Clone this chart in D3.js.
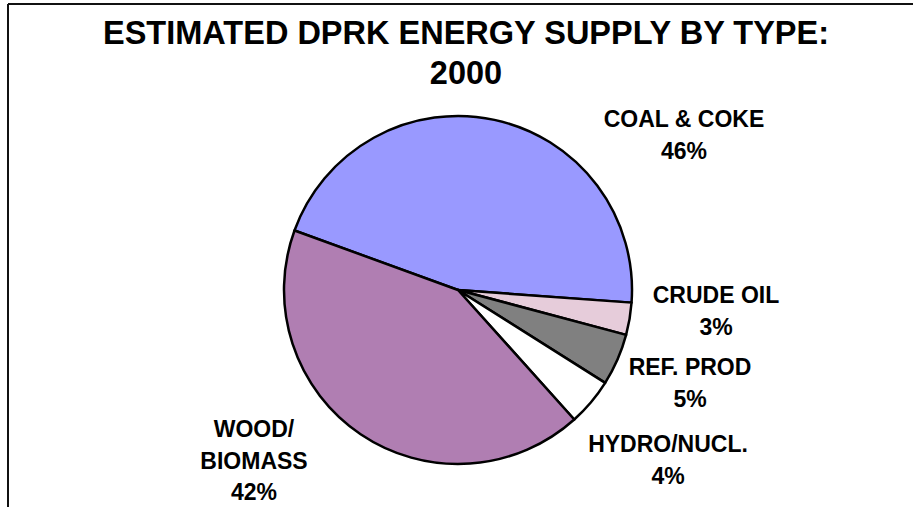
<!DOCTYPE html>
<html>
<head>
<meta charset="utf-8">
<script src="https://cdn.jsdelivr.net/npm/d3@7"></script>
<style>
  body { margin: 0; background: #fff; }
  text { font-family: "Liberation Sans", Arial, sans-serif; font-weight: bold; fill: #000; }
</style>
</head>
<body>
<script>
// Data
const categories = ["COAL & COKE", "CRUDE OIL", "REF. PROD", "HYDRO/NUCL.", "WOOD/\nBIOMASS"];
const shares = [45.6, 3.0, 4.8, 4.4, 42.2];
const colors = ["#9999ff", "#e6ccda", "#808080", "#ffffff", "#b07eb2"];
const titleLines = ["ESTIMATED DPRK ENERGY SUPPLY BY TYPE:", "2000"];

// Label anchors (first baseline), relative to the pie centre
const labelOffsets = [[226, -163], [258, 13], [232, 85], [210, 162], [-204, 147]];

const width = 913, height = 507;
const cx = 458, cy = 290, radius = 174;
const lineGap = 31.5;

const svg = d3.select("body").append("svg")
    .attr("width", width)
    .attr("height", height);

// Frame (top + left edges visible)
svg.append("line")
    .attr("x1", 8).attr("y1", 4).attr("x2", width).attr("y2", 4)
    .attr("stroke", "#111").attr("stroke-width", 2);
svg.append("line")
    .attr("x1", 8).attr("y1", 4).attr("x2", 8).attr("y2", height)
    .attr("stroke", "#111").attr("stroke-width", 2);

// Title
svg.append("text")
    .attr("x", 466)
    .attr("y", 44)
    .attr("text-anchor", "middle")
    .style("font-size", "32.5px")
    .selectAll("tspan")
    .data(titleLines)
    .enter()
    .append("tspan")
    .attr("x", 466)
    .attr("dy", (d, i) => i === 0 ? 0 : 40)
    .text(d => d);

// Pie
const pie = d3.pie()
    .sort(null)
    .value(d => d)
    .startAngle(-70 * Math.PI / 180)
    .endAngle(290 * Math.PI / 180);

const arc = d3.arc()
    .innerRadius(0)
    .outerRadius(radius);

const arcs = pie(shares);

let g = svg.append("g")
    .attr("transform", `translate(${cx},${cy})`);

g.selectAll("path")
    .data(arcs)
    .enter()
    .append("path")
    .attr("d", arc)
    .attr("fill", (d, i) => colors[i])
    .attr("stroke", "#000")
    .attr("stroke-width", 2.5)
    .attr("stroke-linejoin", "round");

// Labels
const pct = d3.format(".0f");

let labels = g.selectAll("text.lbl")
    .data(arcs)
    .enter()
    .append("text")
    .classed("lbl", true)
    .attr("text-anchor", "middle")
    .style("font-size", "23px")
    .attr("transform", (d, i) => `translate(${labelOffsets[i][0]},${labelOffsets[i][1]})`);

labels.each(function (d, i) {
    let lines = categories[i].split("\n").concat([pct(d.data) + "%"]);
    d3.select(this).selectAll("tspan")
        .data(lines)
        .enter()
        .append("tspan")
        .attr("x", 0)
        .attr("y", (l, j) => j * lineGap)
        .text(l => l);
});
</script>
</body>
</html>
